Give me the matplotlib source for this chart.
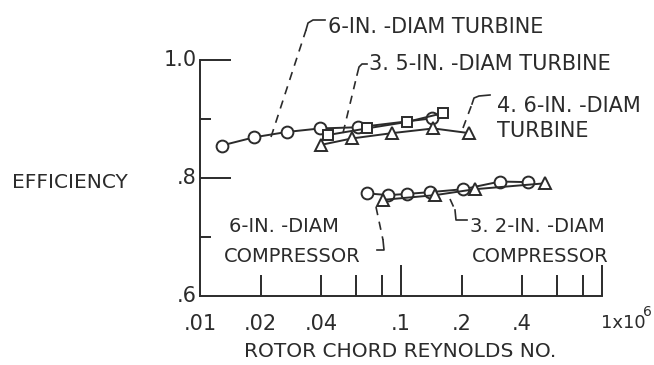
import matplotlib
matplotlib.use('Agg')
import matplotlib.pyplot as plt
from matplotlib.ticker import FixedLocator, NullFormatter

plt.rcParams['font.family'] = ['DejaVu Sans']

INK = '#2b2b2b'

# Reynolds number in units of 1e6, efficiency
turb6_re = [0.0128, 0.0186, 0.027, 0.0395, 0.0613, 0.142]
turb6_eff = [0.855, 0.869, 0.878, 0.884, 0.886, 0.901]

turb35_re = [0.0435, 0.0675, 0.107, 0.162]
turb35_eff = [0.873, 0.884, 0.895, 0.910]

turb46_re = [0.0398, 0.0569, 0.090, 0.145, 0.219]
turb46_eff = [0.856, 0.867, 0.876, 0.884, 0.876]

comp6_re = [0.0675, 0.0865, 0.107, 0.139, 0.204, 0.311, 0.430]
comp6_eff = [0.774, 0.771, 0.773, 0.776, 0.781, 0.794, 0.793]

comp32_re = [0.0817, 0.148, 0.233, 0.520]
comp32_eff = [0.763, 0.771, 0.781, 0.791]

xtick_vals = [0.01, 0.02, 0.04, 0.1, 0.2, 0.4]
xtick_text = ['.01', '.02', '.04', '.1', '.2', '.4']
ytick_vals = [1.0, 0.8, 0.6]
ytick_text = ['1.0', '.8', '.6']

W, H = 654, 365
fig = plt.figure(figsize=(W / 100, H / 100), dpi=100)
ax = fig.add_axes([200 / W, 1 - 296 / H, 402 / W, 236 / H])

mk = dict(color=INK, lw=1.4, mfc='white', mec=INK, mew=1.4)
ax.plot(turb6_re, turb6_eff, marker='o', ms=8.5, **mk)
ax.plot(turb35_re, turb35_eff, marker='s', ms=7.5, **mk)
ax.plot(turb46_re, turb46_eff, marker='^', ms=9, **mk)
ax.plot(comp6_re, comp6_eff, marker='o', ms=8.5, **mk)
ax.plot(comp32_re, comp32_eff, marker='^', ms=9, **mk)

ax.set_xscale('log')
ax.set_xlim(0.01, 1)
ax.set_ylim(0.6, 1.0)
for s in ['top', 'right']:
    ax.spines[s].set_visible(False)
for s in ['left', 'bottom']:
    ax.spines[s].set_color(INK)
    ax.spines[s].set_linewidth(1.4)

ax.xaxis.set_major_locator(FixedLocator([0.1, 1]))
ax.xaxis.set_minor_locator(FixedLocator([0.02, 0.04, 0.06, 0.08, 0.2, 0.4, 0.6, 0.8]))
ax.xaxis.set_major_formatter(NullFormatter())
ax.xaxis.set_minor_formatter(NullFormatter())
ax.tick_params(axis='x', which='major', direction='in', length=22, width=1.4, color=INK)
ax.tick_params(axis='x', which='minor', direction='in', length=15, width=1.4, color=INK)

ax.yaxis.set_major_locator(FixedLocator([0.8, 1.0]))
ax.yaxis.set_minor_locator(FixedLocator([0.7, 0.9]))
ax.yaxis.set_major_formatter(NullFormatter())
ax.tick_params(axis='y', which='major', direction='in', length=22, width=1.4, color=INK)
ax.tick_params(axis='y', which='minor', direction='in', length=8, width=1.4, color=INK)

# hand lettered tick labels
xt = ax.get_xaxis_transform()
for v, s in zip(xtick_vals, xtick_text):
    ax.text(v, -0.075, s, transform=xt, fontsize=15, color=INK,
            ha='center', va='top')
ax.text(0.985, -0.075, '1x10', transform=xt, fontsize=13, color=INK,
        ha='left', va='top')
for v, s in zip(ytick_vals, ytick_text):
    ax.text(0.0096, v, s, ha='right', va='center', fontsize=15, color=INK)


def px(x, y):
    return x / W, 1 - y / H


def leader(dash, hook):
    for pts, ls in [(dash, (0, (5, 4))), (hook, '-')]:
        xs = [p[0] / W for p in pts]
        ys = [1 - p[1] / H for p in pts]
        fig.add_artist(plt.Line2D(xs, ys, transform=fig.transFigure,
                                  color=INK, lw=1.2, ls=ls))


# exponent on the last x label
fig.text(*px(643, 305), '6', fontsize=10, color=INK, ha='left', va='top')

tlab = dict(fontsize=15, color=INK, va='baseline', ha='left')
clab = dict(fontsize=14, color=INK, va='baseline', ha='left')

fig.text(*px(400, 357), 'ROTOR CHORD REYNOLDS NO.', fontsize=14.5,
         color=INK, ha='center', va='baseline')
fig.text(*px(12, 188), 'EFFICIENCY', fontsize=14.5, color=INK,
         ha='left', va='baseline')

# turbine labels
leader([(271, 137), (306, 30)], [(306, 30), (308, 23), (313, 20), (325, 20)])
fig.text(*px(328, 33), '6-IN. -DIAM TURBINE', **tlab)
leader([(343, 133), (357, 75)], [(357, 75), (359, 67), (362, 64), (367, 64)])
fig.text(*px(369, 70), '3. 5-IN. -DIAM TURBINE', **tlab)
leader([(463, 128), (472, 104)], [(472, 104), (474, 98), (479, 96), (490, 95)])
fig.text(*px(497, 112), '4. 6-IN. -DIAM', **tlab)
fig.text(*px(497, 137), 'TURBINE', **tlab)

# compressor labels
leader([(376, 207), (383, 240)], [(383, 240), (384, 250), (377, 250)])
fig.text(*px(339, 232), '6-IN. -DIAM', fontsize=14, color=INK,
         va='baseline', ha='right')
fig.text(*px(361, 262), 'COMPRESSOR', fontsize=14, color=INK,
         va='baseline', ha='right')
leader([(450, 199), (455, 210)], [(455, 210), (456, 220), (467, 220)])
fig.text(*px(470, 232), '3. 2-IN. -DIAM', **clab)
fig.text(*px(472, 262), 'COMPRESSOR', **clab)

fig.savefig('out.png', dpi=100, facecolor='white')
